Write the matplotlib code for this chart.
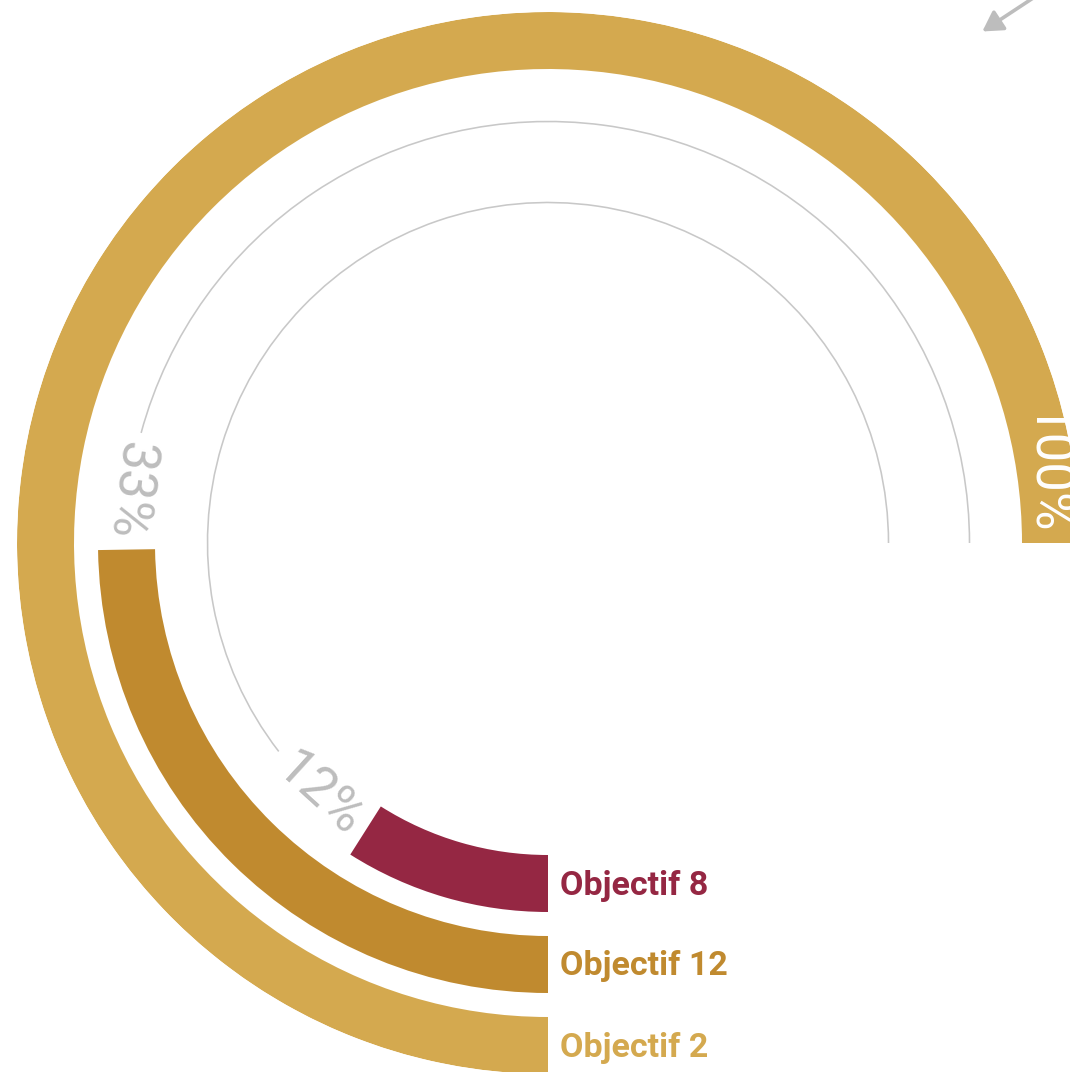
import numpy as np
import matplotlib
matplotlib.use("Agg")
from matplotlib import pyplot as plt

# data, outer ring first
objectifs = ["Objectif 2", "Objectif 12", "Objectif 8"]
pourcentages = [100, 33, 12]
couleurs = ["#D4A94F", "#C08A2F", "#952743"]

FULL_DEG = 270            # 100% = three quarters of a turn
R_MAX = 531               # outer edge of the outer ring (pixels)
RING_W = 57
RING_STEP = 81
GAP_PX = 118              # space left for the label after a bar end
TRACK_COLOR = "#C8C8C8"
LABEL_GRAY = "#BDBDBD"
PCT_SIZE = 38

fig = plt.figure(figsize=(10.70, 10.72), dpi=100)
# centre of the rings at (548, 543) px from the top-left corner
ax = fig.add_axes([17 / 1070, -2 / 1072, 1062 / 1070, 1062 / 1072], projection="polar")
ax.set_theta_zero_location("S")
ax.set_theta_direction(-1)
ax.set_rlim(0, R_MAX)
ax.grid(False)
ax.set_xticks([])
ax.set_yticks([])
ax.spines["polar"].set_visible(False)

full = np.deg2rad(FULL_DEG)

for i, (name, pct, col) in enumerate(zip(objectifs, pourcentages, couleurs)):
    r = R_MAX - RING_W / 2 - i * RING_STEP
    end = full * pct / 100
    ax.barh(r, end, left=0, height=RING_W, color=col, edgecolor="none")

    label = f"{pct}%"
    if pct >= 100:
        # label sits inside the bar, just before its end
        theta = end - (14 + 58) / r
        ax.text(theta, r, label, color="white", fontsize=PCT_SIZE, fontfamily="Roboto",
                rotation=-90, ha="center", va="center", rotation_mode="anchor")
    else:
        # thin grey track for the rest of the ring, label in the gap
        start = end + GAP_PX / r
        ax.barh(r, full - start, left=start, height=1.6, color=TRACK_COLOR, edgecolor="none")
        theta = end + GAP_PX / 2 / r
        ax.text(theta, r, label, color=LABEL_GRAY, fontsize=PCT_SIZE, fontfamily="Roboto",
                rotation=-np.rad2deg(theta), ha="center", va="center",
                rotation_mode="anchor")

    ax.annotate(name, xy=(0, r), xytext=(12, -11), textcoords="offset pixels",
                color=col, fontsize=24.5, fontfamily="Roboto", fontweight="bold",
                ha="left", va="baseline", annotation_clip=False)

# stray pointer arrow in the top-right corner
fig.patches.append(matplotlib.patches.FancyArrowPatch(
    (1065, 1072 + 23), (980, 1072 - 33), transform=None,
    arrowstyle="-|>,head_length=12,head_width=7", color="#BDBDBD", lw=2.6))

fig.savefig("out.png", dpi=100)
